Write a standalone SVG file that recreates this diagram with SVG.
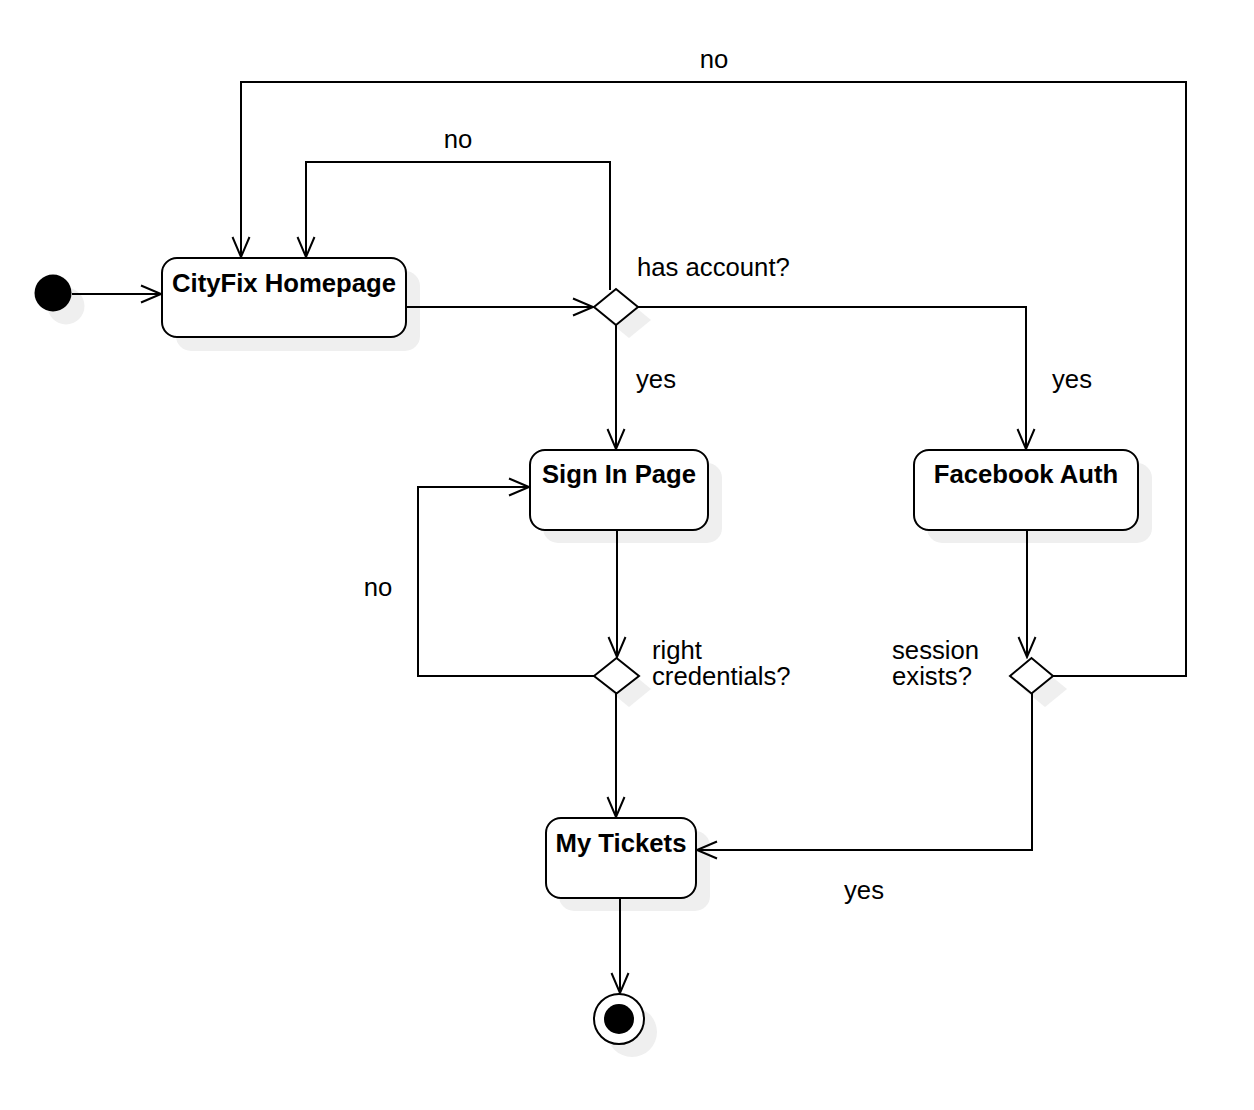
<svg xmlns="http://www.w3.org/2000/svg" width="1254" height="1110" viewBox="0 0 1254 1110">
<defs>
<style>
.box{fill:#fff;stroke:#000;stroke-width:2}
.sh{fill:#efefef;stroke:none}
.edge{fill:none;stroke:#000;stroke-width:2}
.t{font-family:"Liberation Sans",Arial,sans-serif;font-size:25.7px;fill:#000}
.b{font-weight:bold;text-anchor:middle}
</style>
<marker id="arr" viewBox="0 0 24 20" refX="22" refY="10" markerWidth="24" markerHeight="20" markerUnits="userSpaceOnUse" orient="auto">
<path d="M2,1.5 L22,10 L2,18.5" fill="none" stroke="#000" stroke-width="2"/>
</marker>
</defs>
<rect width="1254" height="1110" fill="#fff"/>

<g id="start">
<circle class="sh" cx="66" cy="306" r="18.5"/>
<circle cx="53" cy="293" r="18.5" fill="#000"/>
</g>

<g id="homepage">
<rect class="sh" x="176" y="271" width="244" height="80" rx="15"/>
<rect class="box" x="162" y="258" width="244" height="79" rx="15"/>
<text class="t b" x="284" y="292">CityFix Homepage</text>
</g>

<g id="hasAccount">
<path class="sh" d="M607,320 L629,302 L651,320 L629,338 Z"/>
<path class="box" d="M594,307 L616,289 L638,307 L616,325 Z"/>
<text class="t" x="637" y="276">has account?</text>
</g>

<g id="signIn">
<rect class="sh" x="543" y="463" width="179" height="80" rx="15"/>
<rect class="box" x="530" y="450" width="178" height="80" rx="15"/>
<text class="t b" x="619" y="483">Sign In Page</text>
</g>

<g id="facebookAuth">
<rect class="sh" x="927" y="463" width="225" height="80" rx="15"/>
<rect class="box" x="914" y="450" width="224" height="80" rx="15"/>
<text class="t b" x="1026" y="483">Facebook Auth</text>
</g>

<g id="rightCredentials">
<path class="sh" d="M607,689 L629,671 L651,689 L629,707 Z"/>
<path class="box" d="M594,676 L616.5,658 L639,676 L616.5,693.5 Z"/>
<text class="t" x="652" y="659">right</text>
<text class="t" x="652" y="685">credentials?</text>
</g>

<g id="sessionExists">
<path class="sh" d="M1023,689 L1045,671 L1067,689 L1045,707 Z"/>
<path class="box" d="M1010,676 L1031.5,658 L1053,676 L1031.5,693.5 Z"/>
<text class="t" x="892" y="659">session</text>
<text class="t" x="892" y="685">exists?</text>
</g>

<g id="myTickets">
<rect class="sh" x="559" y="831" width="151" height="80" rx="15"/>
<rect class="box" x="546" y="818" width="150" height="80" rx="15"/>
<text class="t b" x="621" y="852">My Tickets</text>
</g>

<g id="end">
<circle class="sh" cx="632" cy="1032" r="25"/>
<circle cx="619" cy="1019" r="25" fill="#fff" stroke="#000" stroke-width="2"/>
<circle cx="619" cy="1019" r="15" fill="#000"/>
</g>

<g id="connectors">
<path class="edge" d="M72,294 H161" marker-end="url(#arr)"/>
<path class="edge" d="M406,307 H593" marker-end="url(#arr)"/>
<path class="edge" d="M610,290 V162 H306 V257" marker-end="url(#arr)"/>
<path class="edge" d="M1053,676 H1186 V82 H241 V257" marker-end="url(#arr)"/>
<path class="edge" d="M616,325 V449" marker-end="url(#arr)"/>
<path class="edge" d="M638,307 H1026 V449" marker-end="url(#arr)"/>
<path class="edge" d="M617,530 V657" marker-end="url(#arr)"/>
<path class="edge" d="M594,676 H418 V487 H529" marker-end="url(#arr)"/>
<path class="edge" d="M616,693 V817" marker-end="url(#arr)"/>
<path class="edge" d="M1027,530 V657" marker-end="url(#arr)"/>
<path class="edge" d="M1032,693 V850 H697" marker-end="url(#arr)"/>
<path class="edge" d="M620,898 V993" marker-end="url(#arr)"/>
<text class="t" x="714" y="68" text-anchor="middle">no</text>
<text class="t" x="458" y="148" text-anchor="middle">no</text>
<text class="t" x="656" y="388" text-anchor="middle">yes</text>
<text class="t" x="1072" y="388" text-anchor="middle">yes</text>
<text class="t" x="378" y="596" text-anchor="middle">no</text>
<text class="t" x="864" y="899" text-anchor="middle">yes</text>
</g>
</svg>
